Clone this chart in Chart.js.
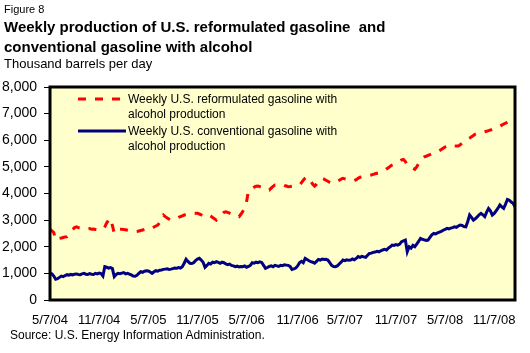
<!DOCTYPE html>
<html lang="en">
<head>
<meta charset="UTF-8">
<title>Figure 8</title>
<script src="https://cdn.jsdelivr.net/npm/chart.js"></script>
<style>
  body { margin: 0; width: 530px; height: 353px; background: #fff; position: relative; overflow: hidden;
         font-family: "Liberation Sans", Arial, sans-serif; }
  #chart { position: absolute; left: 0; top: 0; }
  .t { position: absolute; left: 4px; white-space: pre; color: #000; }
  #fig { top: 3px; font-size: 11px; }
  #title { top: 17px; font-size: 15px; font-weight: bold; line-height: 20px; }
  #sub { top: 56px; font-size: 13px; }
  #src { top: 328px; left: 10px; font-size: 12px; }
</style>
</head>
<body>
<canvas id="chart" width="530" height="353"></canvas>
<div class="t" id="fig">Figure 8</div>
<div class="t" id="title">Weekly production of U.S. reformulated gasoline  and<br>conventional gasoline with alcohol</div>
<div class="t" id="sub">Thousand barrels per day</div>
<div class="t" id="src">Source: U.S. Energy Information Administration.</div>
<script>
// tick labels every six months, and their position in weeks from 5/7/04
const tickLabels = ['5/7/04', '11/7/04', '5/7/05', '11/7/05', '5/7/06', '11/7/06', '5/7/07', '11/7/07', '5/7/08', '11/7/08'];
const tickWeeks = [0, 26, 52, 78, 104, 131, 156, 183, 209, 235];

const seriesNames = [
    ['Weekly U.S. reformulated gasoline with', 'alcohol production'],
    ['Weekly U.S. conventional gasoline with', 'alcohol production']
];

// weekly values, thousand barrels per day, starting 5/7/04
const reformulated = [
    2655, 2600, 2530, 2250, 2280, 2315, 2330, 2350, 2370, 2380,
    2480, 2550, 2650, 2720, 2750, 2720, 2700, 2680, 2690, 2670,
    2665, 2680, 2660, 2665, 2650, 2640, 2660, 2650, 2655, 2750,
    2900, 3000, 3070, 2800, 2500, 2550, 2620, 2655, 2660, 2650,
    2640, 2620, 2600, 2590, 2570, 2560, 2570, 2590, 2610, 2630,
    2650, 2655, 2660, 2655, 2700, 2740, 2780, 2815, 2900, 3050,
    3190, 3130, 3080, 3040, 3010, 3000, 3030, 3060, 3100, 3130,
    3160, 3190, 3200, 3220, 3230, 3240, 3250, 3255, 3255, 3230,
    3200, 3160, 3130, 3160, 3190, 3150, 3100, 3050, 3000, 3080,
    3150, 3220, 3290, 3315, 3290, 3260, 3230, 3200, 3170, 3150,
    3130, 3220, 3330, 3440, 3700, 4100, 4150, 4200, 4240, 4270,
    4280, 4260, 4230, 4200, 4170, 4150, 4130, 4200, 4270, 4320,
    4320, 4310, 4320, 4330, 4300, 4280, 4255, 4260, 4270, 4290,
    4300, 4310, 4320, 4400, 4500, 4580, 4630, 4550, 4450, 4350,
    4280, 4350, 4450, 4530, 4570, 4540, 4500, 4460, 4420, 4390,
    4380, 4420, 4460, 4500, 4540, 4570, 4550, 4530, 4510, 4500,
    4490, 4480, 4520, 4570, 4610, 4630, 4650, 4660, 4670, 4690,
    4695, 4720, 4740, 4760, 4780, 4800, 4820, 4870, 4920, 4970,
    5020, 5070, 5100, 5140, 5180, 5220, 5260, 5280, 5200, 5070,
    5020, 5010, 4950, 4910, 5000, 5120, 5240, 5330, 5380, 5400,
    5430, 5460, 5490, 5520, 5550, 5570, 5610, 5650, 5700, 5750,
    5790, 5820, 5810, 5800, 5790, 5780, 5780, 5830, 5880, 5930,
    5980, 6035, 6080, 6130, 6180, 6230, 6260, 6270, 6290, 6300,
    6320, 6340, 6360, 6385, 6400, 6420, 6450, 6490, 6530, 6570,
    6610, 6640, 6670, 6700, 6720, 6735, 6800
];

const conventional = [
    1000, 980, 900, 780, 800, 850, 900, 880, 920, 950,
    930, 960, 940, 970, 980, 960, 950, 980, 1000, 970,
    960, 990, 970, 960, 1000, 980, 1010, 990, 900, 1250,
    1230, 1200, 1220, 1180, 880, 960, 1000, 990, 1010, 1030,
    980, 1000, 970, 940, 900, 890, 930, 1000, 1060, 1040,
    1080, 1100, 1090, 1050, 1000, 1060, 1100, 1080, 1120, 1130,
    1150, 1160, 1170, 1150, 1160, 1180, 1200, 1190, 1220, 1200,
    1250, 1380, 1530, 1450, 1380, 1370, 1400, 1480, 1540, 1565,
    1500, 1420, 1230, 1300, 1380, 1350, 1420, 1400, 1440, 1410,
    1380, 1420, 1400, 1360, 1330, 1350, 1300, 1280, 1250, 1270,
    1240, 1260, 1250, 1280, 1230, 1260, 1300, 1400, 1380, 1420,
    1400, 1430, 1410, 1300, 1190, 1220, 1260, 1280, 1250, 1300,
    1280, 1260, 1300, 1290, 1320, 1310, 1300, 1260, 1150, 1170,
    1200, 1280, 1400, 1450, 1400, 1560, 1520, 1475, 1440, 1420,
    1380, 1450, 1520, 1500, 1540, 1520, 1530, 1500, 1400, 1300,
    1260, 1250, 1280, 1350, 1420, 1500, 1480, 1510, 1490, 1500,
    1540, 1510, 1560, 1630, 1600, 1640, 1620, 1600, 1680, 1750,
    1760, 1790, 1800, 1830, 1810, 1850, 1880, 1900, 1880, 1950,
    2000, 2065, 2050, 2080, 2060, 2100, 2190, 2220, 2250, 1815,
    2000, 1950, 2050, 2000, 2100, 2200, 2315, 2280, 2260, 2240,
    2250, 2350, 2450, 2500, 2480, 2520, 2550, 2580, 2620, 2650,
    2690, 2670, 2700, 2720, 2750, 2730, 2780, 2815, 2800, 2760,
    2750, 2950, 3190, 3100, 3000, 3050, 3120, 3200, 3255, 3200,
    3130, 3300, 3440, 3350, 3190, 3250, 3350, 3450, 3570, 3500,
    3440, 3600, 3780, 3750, 3680, 3630, 3500
];

const FONT = '"Liberation Sans", Arial, sans-serif';
const toPoints = arr => arr.map((v, i) => ({ x: i, y: v }));

// yellow plot area with a heavy black frame
const plotFrame = {
    id: 'plotFrame',
    beforeDraw(chart) {
        const { ctx, chartArea: a } = chart;
        ctx.save();
        ctx.fillStyle = '#FFFFCC';
        ctx.fillRect(a.left, a.top, a.width, a.height);
        ctx.restore();
    },
    afterDraw(chart) {
        const { ctx, chartArea: a } = chart;
        ctx.save();
        ctx.strokeStyle = '#000';
        ctx.lineWidth = 3;
        ctx.strokeRect(a.left, a.top, a.width, a.height);
        ctx.restore();
    }
};

// two-line legend entries inside the plot
const insideLegend = {
    id: 'insideLegend',
    afterDatasetsDraw(chart) {
        const { ctx, chartArea: a } = chart;
        const rows = [12, 44];
        ctx.save();
        ctx.font = '12px ' + FONT;
        ctx.fillStyle = '#000';
        ctx.textBaseline = 'middle';
        chart.data.datasets.forEach((ds, i) => {
            const y = a.top + rows[i];
            ctx.strokeStyle = ds.borderColor;
            ctx.lineWidth = ds.borderWidth;
            ctx.setLineDash(ds.borderDash || []);
            ctx.beginPath();
            ctx.moveTo(a.left + 28, y);
            ctx.lineTo(a.left + (i === 0 ? 71 : 76), y);
            ctx.stroke();
            ctx.setLineDash([]);
            seriesNames[i].forEach((line, j) => {
                ctx.fillText(line, a.left + 78, y + 1 + j * 15);
            });
        });
        ctx.restore();
    }
};

new Chart(document.getElementById('chart'), {
    type: 'line',
    data: {
        datasets: [{
            label: seriesNames[0].join(' '),
            data: toPoints(reformulated),
            borderColor: '#FF0000',
            borderWidth: 3,
            borderDash: [8, 9],
            pointRadius: 0,
            tension: 0
        }, {
            label: seriesNames[1].join(' '),
            data: toPoints(conventional),
            borderColor: '#000080',
            borderWidth: 3,
            pointRadius: 0,
            tension: 0
        }]
    },
    options: {
        responsive: false,
        animation: false,
        devicePixelRatio: 1,
        layout: { padding: { top: 87, right: 15, left: 0, bottom: 0 } },
        plugins: { legend: { display: false }, tooltip: { enabled: false } },
        scales: {
            x: {
                type: 'linear',
                min: 0,
                max: 246,
                afterBuildTicks(s) { s.ticks = tickWeeks.map(v => ({ value: v })); },
                afterFit(s) { s.height = 53; },
                ticks: {
                    autoSkip: false,
                    maxRotation: 0,
                    color: '#000',
                    padding: 5,
                    font: { size: 13, family: FONT },
                    callback: (v, i) => tickLabels[i]
                },
                grid: { display: false },
                border: { display: false }
            },
            y: {
                min: 0,
                max: 8000,
                afterFit(s) { s.width = 50; },
                ticks: {
                    stepSize: 1000,
                    color: '#000',
                    padding: 7,
                    font: { size: 14, family: FONT },
                    callback: v => v.toLocaleString('en-US')
                },
                grid: { drawOnChartArea: false, color: '#000', tickLength: 6 },
                border: { display: false }
            }
        }
    },
    plugins: [plotFrame, insideLegend]
});
</script>
</body>
</html>
